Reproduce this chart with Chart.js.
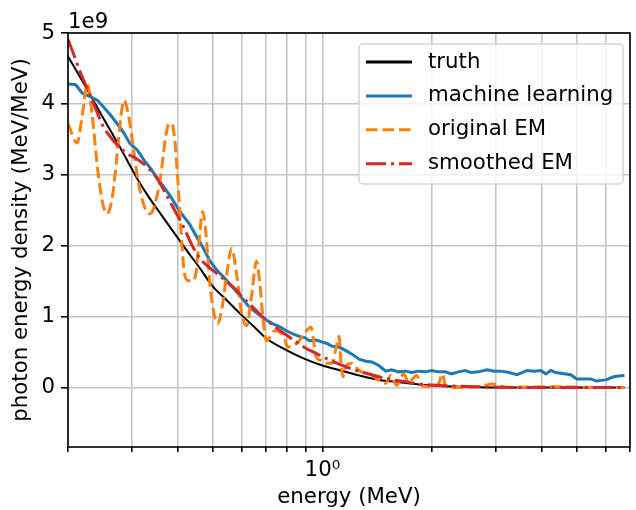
<!DOCTYPE html>
<html>
<head>
<meta charset="utf-8">
<script src="https://cdn.jsdelivr.net/npm/chart.js@4.4.1/dist/chart.umd.min.js"></script>
<style>
  html, body { margin: 0; padding: 0; background: #fff; }
  canvas { display: block; }
</style>
</head>
<body>
<canvas id="chart" width="636" height="510"></canvas>
<script>
// energy (MeV) and photon energy density (units of 1e9 MeV/MeV)
const truthE = [0.200, 0.222, 0.245, 0.275, 0.312, 0.336, 0.365, 0.399, 0.427, 0.461, 0.497, 0.546, 0.600, 0.651, 0.702, 0.801, 0.897, 1.00, 1.12, 1.26, 1.42, 1.62, 1.96, 2.30, 2.68, 3.30, 4.16, 6.76];
const truthY = [4.67, 4.27, 3.88, 3.43, 2.92, 2.66, 2.40, 2.12, 1.91, 1.68, 1.44, 1.23, 1.02, 0.85, 0.69, 0.52, 0.40, 0.31, 0.24, 0.17, 0.11, 0.075, 0.03, 0.012, 0.005, 0, 0, 0];

const mlE = [0.200, 0.210, 0.219, 0.231, 0.241, 0.250, 0.261, 0.273, 0.284, 0.296, 0.310, 0.322, 0.336, 0.351, 0.365, 0.381, 0.406, 0.432, 0.452, 0.469, 0.490, 0.512, 0.546, 0.574, 0.603, 0.631, 0.672, 0.702, 0.729, 0.762, 0.796, 0.826, 0.864, 0.897, 0.920, 0.961, 1.00, 1.03, 1.063, 1.111, 1.161, 1.206, 1.260, 1.317, 1.367, 1.429, 1.493, 1.550, 1.620, 1.693, 1.758, 1.838, 1.920, 1.994, 2.084, 2.178, 2.262, 2.363, 2.469, 2.564, 2.681, 2.836, 2.963, 3.097, 3.257, 3.425, 3.534, 3.648, 3.812, 3.984, 4.112, 4.243, 4.378, 4.517, 4.663, 4.811, 4.996, 5.223, 5.458, 5.667, 5.847, 6.034, 6.304, 6.507, 6.757];
const mlY = [4.28, 4.27, 4.15, 4.10, 4.05, 3.96, 3.85, 3.72, 3.60, 3.44, 3.35, 3.22, 3.10, 2.96, 2.84, 2.71, 2.48, 2.30, 2.12, 1.98, 1.79, 1.66, 1.51, 1.38, 1.25, 1.13, 1.02, 0.95, 0.90, 0.86, 0.80, 0.76, 0.72, 0.70, 0.66, 0.67, 0.64, 0.62, 0.58, 0.57, 0.52, 0.47, 0.40, 0.37, 0.36, 0.31, 0.23, 0.25, 0.22, 0.23, 0.21, 0.23, 0.22, 0.24, 0.22, 0.22, 0.19, 0.22, 0.24, 0.21, 0.22, 0.25, 0.23, 0.23, 0.21, 0.18, 0.21, 0.24, 0.23, 0.24, 0.19, 0.24, 0.21, 0.20, 0.19, 0.18, 0.12, 0.12, 0.12, 0.09, 0.10, 0.11, 0.15, 0.16, 0.17];

const emE = [0.200, 0.212, 0.219, 0.226, 0.233, 0.241, 0.249, 0.256, 0.265, 0.273, 0.280, 0.285, 0.293, 0.302, 0.312, 0.322, 0.334, 0.340, 0.351, 0.360, 0.369, 0.379, 0.386, 0.393, 0.401, 0.409, 0.416, 0.424, 0.438, 0.449, 0.457, 0.469, 0.478, 0.490, 0.503, 0.516, 0.529, 0.546, 0.563, 0.581, 0.600, 0.619, 0.639, 0.659, 0.672, 0.689, 0.702, 0.720, 0.738, 0.762, 0.786, 0.801, 0.826, 0.864, 0.897, 0.931, 0.949, 0.961, 0.992, 1.024, 1.063, 1.090, 1.111, 1.125, 1.139, 1.161, 1.206, 1.260, 1.300, 1.342, 1.429, 1.493, 1.541, 1.600, 1.672, 1.726, 1.815, 1.873, 1.994, 2.084, 2.137, 2.178, 2.363, 2.681, 2.927, 3.237, 4.164, 5.702, 6.757];
const emY = [3.72, 3.45, 3.85, 4.28, 3.85, 3.10, 2.60, 2.45, 2.70, 3.30, 3.85, 4.05, 3.85, 3.40, 2.90, 2.60, 2.45, 2.47, 2.70, 3.00, 3.45, 3.72, 3.72, 3.49, 2.90, 2.20, 1.68, 1.52, 1.50, 1.60, 2.00, 2.48, 2.20, 1.50, 1.05, 0.90, 1.10, 1.60, 1.96, 1.60, 1.05, 0.87, 1.30, 1.78, 1.50, 0.90, 0.66, 0.72, 0.80, 0.78, 0.71, 0.57, 0.58, 0.66, 0.78, 0.85, 0.60, 0.43, 0.38, 0.34, 0.34, 0.55, 0.72, 0.35, 0.15, 0.30, 0.34, 0.24, 0.21, 0.20, 0.10, 0.06, 0.17, 0.03, 0.19, 0.07, 0.17, 0.03, 0.01, 0.05, 0.19, 0.03, 0.00, 0.01, 0.05, 0.00, 0.01, 0.00, 0.00];

const smoothE = [0.200, 0.208, 0.216, 0.231, 0.241, 0.250, 0.261, 0.273, 0.291, 0.310, 0.330, 0.351, 0.369, 0.388, 0.414, 0.441, 0.461, 0.484, 0.512, 0.546, 0.581, 0.603, 0.631, 0.659, 0.684, 0.715, 0.752, 0.796, 0.848, 0.903, 0.961, 1.024, 1.111, 1.206, 1.317, 1.429, 1.550, 1.693, 1.838, 2.045, 2.262, 2.681, 3.447, 5.028, 6.757];
const smoothY = [4.91, 4.68, 4.45, 4.10, 3.87, 3.68, 3.54, 3.42, 3.30, 3.22, 3.11, 2.95, 2.76, 2.55, 2.28, 1.98, 1.82, 1.71, 1.61, 1.49, 1.37, 1.27, 1.18, 1.08, 1.00, 0.92, 0.83, 0.74, 0.64, 0.55, 0.48, 0.41, 0.33, 0.26, 0.20, 0.15, 0.11, 0.08, 0.05, 0.03, 0.02, 0.01, 0, 0, 0];

const seriesNames = ['truth', 'machine learning', 'original EM', 'smoothed EM'];
const xTicks = [0.2, 0.3, 0.4, 0.5, 0.6, 0.7, 0.8, 0.9, 1, 2, 3, 4, 5, 6, 7];
const yTicks = [0, 1, 2, 3, 4, 5];

const FONT = 'DejaVu Sans';
const FS = 21.3;

function points(xs, ys) {
    return xs.map((x, i) => ({ x: x, y: ys[i] }));
}

Chart.defaults.font.family = FONT;
Chart.defaults.font.size = FS;
Chart.defaults.color = '#000';

// spines, offset text and a matplotlib-style legend
const framePlugin = {
    id: 'frame',
    afterDraw(chart) {
        const ctx = chart.ctx;
        const a = chart.chartArea;
        ctx.save();
        ctx.strokeStyle = '#000';
        ctx.lineWidth = 1.6;
        ctx.strokeRect(a.left, a.top, a.right - a.left, a.bottom - a.top);

        ctx.fillStyle = '#000';
        ctx.font = FS + 'px ' + FONT;
        ctx.textBaseline = 'alphabetic';
        ctx.textAlign = 'left';
        ctx.fillText('1e9', a.left, 28);

        // legend box
        const bx = 359, by = 44, bw = 264, bh = 140, r = 4;
        ctx.beginPath();
        ctx.moveTo(bx + r, by);
        ctx.arcTo(bx + bw, by, bx + bw, by + bh, r);
        ctx.arcTo(bx + bw, by + bh, bx, by + bh, r);
        ctx.arcTo(bx, by + bh, bx, by, r);
        ctx.arcTo(bx, by, bx + bw, by, r);
        ctx.closePath();
        ctx.fillStyle = 'rgba(255,255,255,0.8)';
        ctx.fill();
        ctx.strokeStyle = 'rgba(204,204,204,0.8)';
        ctx.lineWidth = 1.5;
        ctx.stroke();

        const sets = chart.data.datasets;
        sets.forEach((ds, i) => {
            const cy = 62 + i * 33.9;
            ctx.beginPath();
            ctx.setLineDash(ds.borderDash || []);
            ctx.strokeStyle = ds.borderColor;
            ctx.lineWidth = 3;
            ctx.moveTo(366, cy);
            ctx.lineTo(412, cy);
            ctx.stroke();
            ctx.setLineDash([]);
            ctx.fillStyle = '#000';
            ctx.textBaseline = 'middle';
            ctx.fillText(ds.label, 428, cy);
        });
        ctx.restore();
    }
};

new Chart(document.getElementById('chart'), {
    type: 'line',
    data: {
        datasets: [{
            label: seriesNames[0],
            data: points(truthE, truthY),
            borderColor: '#000000',
            borderWidth: 2,
            cubicInterpolationMode: 'monotone',
            order: 3
        }, {
            label: seriesNames[1],
            data: points(mlE, mlY),
            borderColor: '#1f77b4',
            borderWidth: 3,
            tension: 0,
            order: 2
        }, {
            label: seriesNames[2],
            data: points(emE, emY),
            borderColor: '#ff7f0e',
            borderWidth: 3,
            borderDash: [11.5, 5],
            cubicInterpolationMode: 'monotone',
            order: 1
        }, {
            label: seriesNames[3],
            data: points(smoothE, smoothY),
            borderColor: '#d62728',
            borderWidth: 3,
            borderDash: [20, 5, 3, 5],
            cubicInterpolationMode: 'monotone',
            order: 0
        }]
    },
    options: {
        responsive: false,
        animation: false,
        devicePixelRatio: 1,
        layout: {
            padding: { top: 33, right: 3, left: 0, bottom: 0 }
        },
        elements: {
            point: { radius: 0 }
        },
        plugins: {
            legend: { display: false },
            tooltip: { enabled: false }
        },
        scales: {
            x: {
                type: 'logarithmic',
                min: 0.2,
                max: 7,
                afterBuildTicks: (scale) => {
                    scale.ticks = xTicks.map(v => ({ value: v }));
                },
                afterFit: (scale) => { scale.height = 63; },
                grid: {
                    color: '#c4c4c4',
                    lineWidth: 1.6,
                    tickColor: '#000',
                    tickLength: 5,
                    tickWidth: 1.6
                },
                border: { display: false },
                ticks: {
                    autoSkip: false,
                    maxRotation: 0,
                    padding: 6,
                    callback: (v) => (v === 1 ? '10\u2070' : '')
                },
                title: {
                    display: true,
                    text: 'energy (MeV)',
                    padding: { top: 0, bottom: 0 }
                }
            },
            y: {
                type: 'linear',
                min: -0.84,
                max: 5,
                afterBuildTicks: (scale) => {
                    scale.ticks = yTicks.map(v => ({ value: v }));
                },
                afterFit: (scale) => { scale.width = 68; },
                grid: {
                    color: '#c4c4c4',
                    lineWidth: 1.6,
                    tickColor: '#000',
                    tickLength: 7,
                    tickWidth: 1.6
                },
                border: { display: false },
                ticks: {
                    padding: 6
                },
                title: {
                    display: true,
                    text: 'photon energy density (MeV/MeV)',
                    padding: { top: 9, bottom: 0 }
                }
            }
        }
    },
    plugins: [framePlugin]
});
</script>
</body>
</html>
